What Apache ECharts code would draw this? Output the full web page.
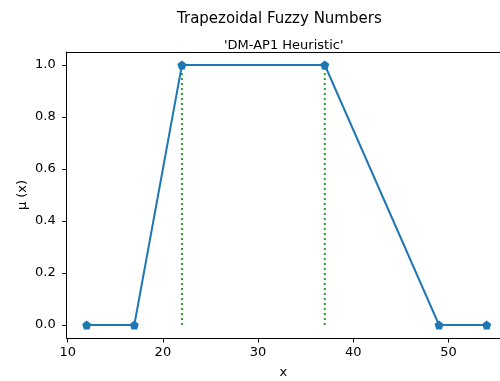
<!DOCTYPE html>
<html>
<head>
<meta charset="utf-8">
<script src="https://cdn.jsdelivr.net/npm/echarts@6/dist/echarts.min.js"></script>
<style>
  html, body { margin: 0; padding: 0; background: #fff; }
  #root { width: 500px; height: 381px; }
</style>
</head>
<body>
<div id="root"></div>
<script>
// trapezoid points
var xValues = [12, 17, 22, 37, 49, 54];
var muValues = [0, 0, 1, 1, 0, 0];
// dotted guides under the plateau corners
var guideX = [22, 37];
var guideLow = 0;
var guideHigh = 1;
var xTicks = [10, 20, 30, 40, 50];
var yTicks = [0, 0.2, 0.4, 0.6, 0.8, 1.0];

var pentagon = 'path://M0,-1 L0.951,-0.309 L0.588,0.809 L-0.588,0.809 L-0.951,-0.309 Z';
var font = 'DejaVu Sans';

var dom = document.getElementById('root');
var myChart = echarts.init(dom, null, { renderer: 'canvas' });

var series = [];
guideX.forEach(function (gx) {
  series.push({
    type: 'line',
    data: [[gx, guideLow], [gx, guideHigh]],
    symbol: 'none',
    silent: true,
    lineStyle: { color: '#2ca02c', width: 2, type: [2, 3] },
    z: 2
  });
});
series.push({
  type: 'line',
  data: xValues.map(function (x, i) { return [x, muValues[i]]; }),
  symbol: pentagon,
  symbolSize: 9,
  showAllSymbol: true,
  lineStyle: { color: '#1f77b4', width: 2 },
  itemStyle: { color: '#1f77b4', borderWidth: 0 },
  z: 3
});

// the frame is cut off on the right in the picture, so only bottom/left/top spines
var spine = { show: true, onZero: false, lineStyle: { color: '#000', width: 1 } };
var tick = { show: true, length: 4.5, lineStyle: { color: '#000', width: 1 } };

var option = {
  animation: false,
  backgroundColor: '#fff',
  title: [
    {
      text: 'Trapezoidal Fuzzy Numbers',
      left: 172, top: 7,
      textStyle: { fontFamily: font, fontSize: 15, fontWeight: 'normal', color: '#000' }
    },
    {
      text: "'DM-AP1 Heuristic'",
      left: 219, top: 34,
      textStyle: { fontFamily: font, fontSize: 13, fontWeight: 'normal', color: '#000' }
    }
  ],
  grid: { left: 66.7, top: 52, right: 0, bottom: 43, outerBoundsMode: 'none', containLabel: false },
  xAxis: [
    {
      type: 'value',
      min: 9.9, max: 55.4,
      name: 'x',
      nameLocation: 'middle',
      nameGap: 28,
      nameMoveOverlap: false,
      nameTextStyle: { fontFamily: font, fontSize: 13, color: '#000' },
      axisLine: spine,
      axisTick: Object.assign({ customValues: xTicks }, tick),
      axisLabel: { fontFamily: font, fontSize: 13, color: '#000', margin: 8, customValues: xTicks },
      splitLine: { show: false }
    },
    {
      type: 'value',
      position: 'top',
      min: 9.9, max: 55.4,
      axisLine: spine,
      axisTick: { show: false },
      axisLabel: { show: false },
      splitLine: { show: false }
    }
  ],
  yAxis: {
    type: 'value',
    min: -0.05, max: 1.05,
    name: 'μ (x)',
    nameLocation: 'middle',
    nameGap: 38,
    nameMoveOverlap: false,
    nameRotate: 90,
    nameTextStyle: { fontFamily: font, fontSize: 13, color: '#000' },
    axisLine: spine,
    axisTick: Object.assign({ customValues: yTicks }, tick),
    axisLabel: {
      fontFamily: font, fontSize: 13, color: '#000', margin: 11,
      customValues: yTicks,
      formatter: function (v) { return v.toFixed(1); }
    },
    splitLine: { show: false }
  },
  series: series
};

myChart.setOption(option);
</script>
</body>
</html>
